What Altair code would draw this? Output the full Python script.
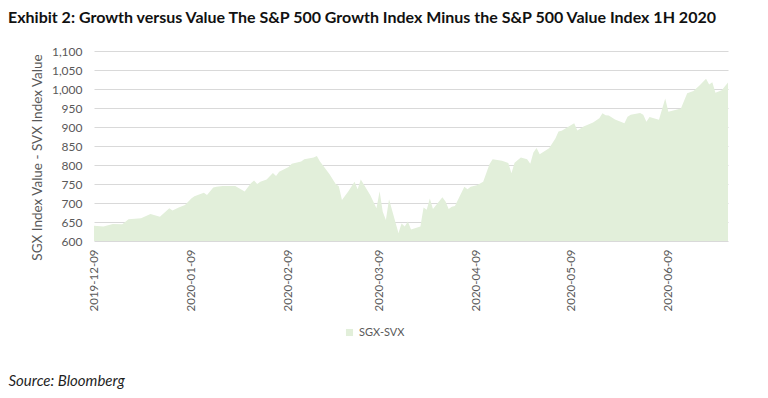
import altair as alt
import pandas as pd

dates = [
    "2019-12-09", "2019-12-12", "2019-12-15", "2019-12-18", "2019-12-20", "2019-12-24",
    "2019-12-27", "2019-12-30", "2020-01-02", "2020-01-03", "2020-01-05", "2020-01-07",
    "2020-01-09", "2020-01-10", "2020-01-13", "2020-01-14", "2020-01-16", "2020-01-17",
    "2020-01-19", "2020-01-23", "2020-01-26", "2020-01-28", "2020-01-29", "2020-01-30",
    "2020-01-31", "2020-02-02", "2020-02-04", "2020-02-05", "2020-02-06", "2020-02-09",
    "2020-02-10", "2020-02-13", "2020-02-14", "2020-02-17", "2020-02-18", "2020-02-19",
    "2020-02-22", "2020-02-24", "2020-02-25", "2020-02-26", "2020-02-28", "2020-03-01",
    "2020-03-02", "2020-03-03", "2020-03-06", "2020-03-08", "2020-03-09", "2020-03-10",
    "2020-03-11", "2020-03-12", "2020-03-15", "2020-03-16", "2020-03-17", "2020-03-18",
    "2020-03-19", "2020-03-22", "2020-03-23", "2020-03-24", "2020-03-25", "2020-03-26",
    "2020-03-29", "2020-03-30", "2020-03-31", "2020-04-01", "2020-04-02", "2020-04-05",
    "2020-04-06", "2020-04-07", "2020-04-09", "2020-04-11", "2020-04-13", "2020-04-14",
    "2020-04-17", "2020-04-19", "2020-04-20", "2020-04-21", "2020-04-23", "2020-04-25",
    "2020-04-26", "2020-04-27", "2020-04-28", "2020-04-29", "2020-05-02", "2020-05-04",
    "2020-05-05", "2020-05-06", "2020-05-08", "2020-05-10", "2020-05-11", "2020-05-13",
    "2020-05-16", "2020-05-18", "2020-05-19", "2020-05-20", "2020-05-21", "2020-05-23",
    "2020-05-26", "2020-05-27", "2020-05-28", "2020-05-31", "2020-06-01", "2020-06-02",
    "2020-06-03", "2020-06-06", "2020-06-08", "2020-06-09", "2020-06-13", "2020-06-15",
    "2020-06-17", "2020-06-19", "2020-06-21", "2020-06-22", "2020-06-23", "2020-06-24",
    "2020-06-26", "2020-06-28",
]
values = [
    640, 638, 645, 644, 657, 660,
    671, 664, 686, 680, 688, 695,
    712, 718, 727, 721, 741, 743,
    745, 745, 730, 752, 759, 750,
    756, 762, 779, 771, 782, 795,
    803, 809, 815, 820, 824, 809,
    776, 750, 744, 708, 730, 756,
    736, 762, 721, 686, 731, 677,
    655, 710, 621, 646, 638, 651,
    630, 638, 688, 682, 712, 684,
    715, 704, 684, 690, 692, 743,
    736, 743, 747, 756, 802, 815,
    811, 805, 778, 806, 820, 815,
    803, 833, 845, 828, 844, 870,
    888, 890, 900, 910, 891, 901,
    912, 923, 936, 931, 930, 920,
    910, 927, 932, 937, 932, 914,
    926, 919, 975, 940, 949, 989,
    995, 1010, 1027, 1012, 1018, 990,
    997, 1017,
]
series_name = "SGX-SVX"
y_ticks = list(range(600, 1101, 50))
x_tick_months = [(2019, 12), (2020, 1), (2020, 2), (2020, 3), (2020, 4), (2020, 5), (2020, 6)]

df = pd.DataFrame({
    "date": [d + "T00:00:00" for d in dates],
    "value": values,
    "series": series_name,
})

FONT = "Lato"
GREY = "#595959"

x_vals = [alt.DateTime(year=y, month=m, date=9) for y, m in x_tick_months]

chart = alt.Chart(df).mark_area(opacity=1, interpolate="linear").encode(
    x=alt.X(
        "date:T",
        scale=alt.Scale(domain=[alt.DateTime(year=2019, month=12, date=9),
                                alt.DateTime(year=2020, month=6, date=28)]),
        axis=alt.Axis(
            values=x_vals, format="%Y-%m-%d", labelAngle=270, labelFont=FONT,
            labelFontSize=11.5, labelColor=GREY, labelPadding=8, ticks=False,
            domain=False, grid=False,
            title="Source: Bloomberg", titleFont=FONT, titleFontSize=15,
            titleFontStyle="italic", titleFontWeight="normal", titleColor="#1f1f1f",
            titleX=-86, titleY=144, titleAlign="left", titleBaseline="alphabetic",
        ),
    ),
    y=alt.Y(
        "value:Q",
        scale=alt.Scale(domain=[600, 1100], zero=False, nice=False),
        axis=alt.Axis(
            values=y_ticks, format=",d", labelFont=FONT, labelFontSize=12,
            labelColor=GREY, labelPadding=12, ticks=False, domain=False,
            gridColor="#d9d9d9", gridWidth=1,
            title="SGX Index Value - SVX Index Value", titleFont=FONT,
            titleFontSize=13.5, titleFontWeight="normal", titleColor=GREY,
            titleX=-57, titleY=106, titleAngle=270, titleAlign="center",
            titleBaseline="middle",
        ),
    ),
    y2=alt.datum(600),
    color=alt.Color(
        "series:N",
        scale=alt.Scale(range=["#e2efda"]),
        legend=alt.Legend(
            title=None, orient="none", legendX=250, legendY=276,
            symbolType="square", symbolSize=50, symbolStrokeWidth=0,
            labelFont=FONT, labelFontSize=11, labelColor=GREY,
        ),
    ),
).properties(
    width=634,
    height=190,
    autosize=alt.AutoSizeParams(type="none"),
    padding={"left": 86, "top": 43, "right": 32, "bottom": 149},
    title=alt.Title(
        "Exhibit 2: Growth versus Value The S&P 500 Growth Index Minus the S&P 500 Value Index 1H 2020",
        anchor="start", frame="group", font=FONT, fontSize=16, fontWeight="bold",
        color="#111111", dx=-86, offset=19,
    ),
).configure_view(stroke=None)

chart.save("out.html", embed_options={"renderer": "svg", "actions": False})
